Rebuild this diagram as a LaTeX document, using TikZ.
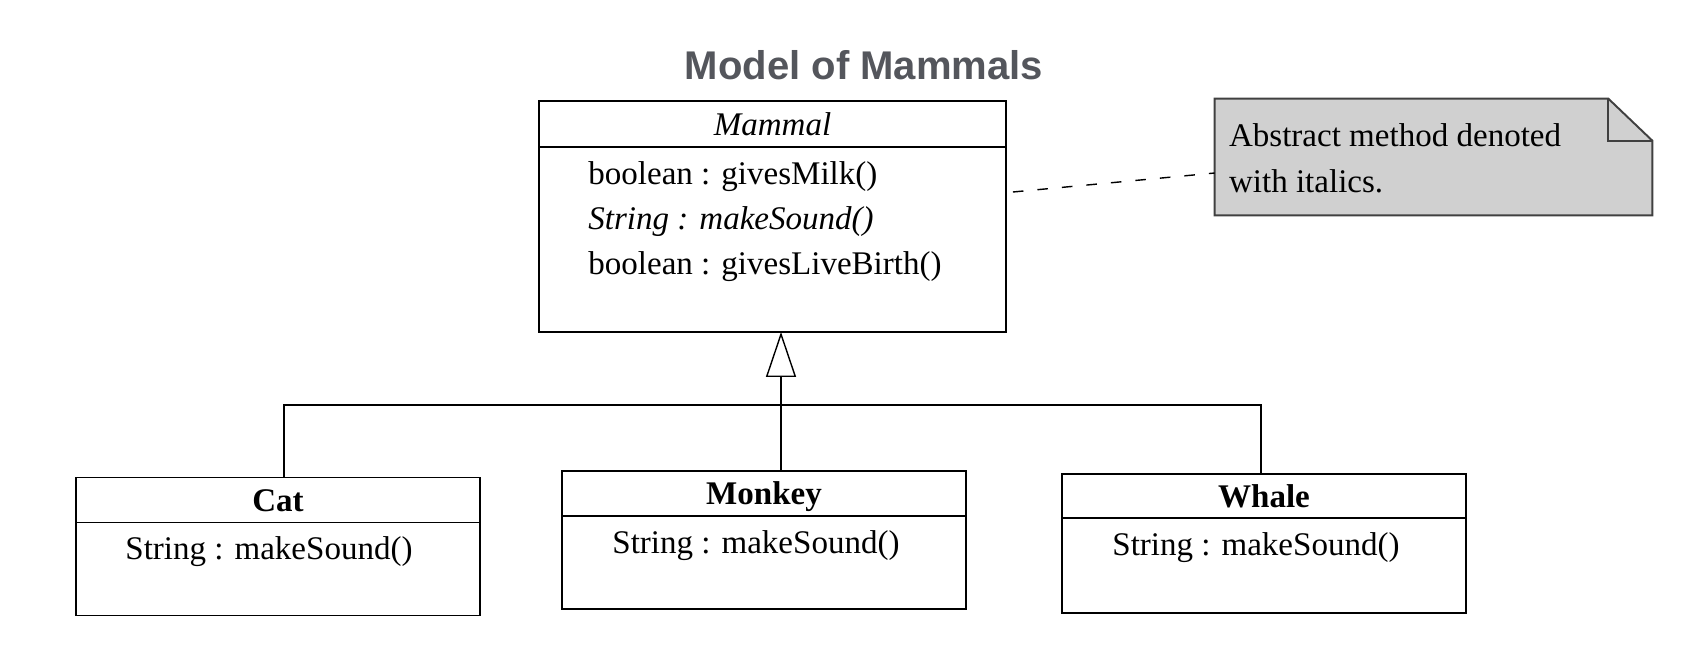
\documentclass[tikz,border=0pt]{standalone}
\usepackage{fontspec}
\setmainfont{Liberation Serif}
\newfontfamily\headfont{Liberation Sans}
\usetikzlibrary{positioning,arrows.meta}

\definecolor{notegray}{RGB}{208,208,208}
\definecolor{titlegray}{RGB}{84,86,92}
\definecolor{edgegray}{RGB}{64,64,64}

\tikzset{
  classhead/.style={draw, line width=1.1pt, inner sep=0pt, outer sep=0pt,
    minimum width=8.08cm, minimum height=0.9cm,
    font=\fontsize{18.8}{22}\selectfont, text height=14pt, text depth=1.1pt},
  classbody/.style={draw, line width=1.1pt, inner sep=0pt, outer sep=0pt,
    minimum width=8.08cm, minimum height=1.86cm},
  member/.style={inner sep=0pt, font=\fontsize{18.8}{22}\selectfont},
  link/.style={line width=0.8pt},
  inherit/.style={line width=0.8pt, -{Triangle[open, width=0.6cm, length=0.9cm]}},
  notebox/.style={draw=edgegray, line width=1.1pt, fill=notegray}
}

\begin{document}
\begin{tikzpicture}[x=0.02cm, y=-0.02cm]
  \useasboundingbox (0,0) rectangle (1702,662);

  % titre
  \node[font=\headfont\bfseries\fontsize{22.8}{27}\selectfont, text=titlegray,
    inner sep=0pt, anchor=base] (title) at (864,80) {Model of Mammals};

  % classe abstraite
  \node[classhead, minimum width=9.34cm, minimum height=0.92cm] (mammal) at (772.5,124) {\textit{Mammal}};
  \node[classbody, minimum width=9.34cm, minimum height=3.70cm, below=0pt of mammal] (mammalbody) {};
  \node[member, anchor=base west] (milk) at ([shift={(49,38)}]mammalbody.north west) {boolean : givesMilk()};
  \node[member, anchor=base west, font=\fontsize{18.8}{22}\selectfont\itshape] (sound) at ([shift={(0,45)}]milk.base west) {String : makeSound()};
  \node[member, anchor=base west] (birth) at ([shift={(0,45)}]sound.base west) {boolean : givesLiveBirth()};

  % note
  \node[minimum width=8.74cm, minimum height=2.32cm, inner sep=0pt] (note) at (1433.5,157) {};
  \draw[notebox] (note.north west) -- ([shift={(-44,0)}]note.north east)
    -- ([shift={(0,42)}]note.north east) -- (note.south east) -- (note.south west) -- cycle;
  \draw[draw=edgegray, line width=1.1pt] ([shift={(-44,0)}]note.north east) |- ([shift={(0,42)}]note.north east);
  \node[member, anchor=base west] (noteone) at ([shift={(14,48)}]note.north west) {Abstract method denoted};
  \node[member, anchor=base west] (notetwo) at ([shift={(0,46)}]noteone.base west) {with italics.};

  \coordinate (tail) at ([shift={(7,45)}]mammalbody.north east);
  \draw[link, dash pattern=on 6pt off 8pt] (tail) -- ([shift={(0,16)}]note.west);

  % sous-classes
  \node[classhead] (cat) at (278,500) {\textbf{Cat}};
  \node[classbody, below=0pt of cat] (catbody) {};
  \node[member, anchor=base west] (catsound) at ([shift={(49,37)}]catbody.north west) {String : makeSound()};

  \node[classhead] (monkey) at (764,493.5) {\textbf{Monkey}};
  \node[classbody, below=0pt of monkey] (monkeybody) {};
  \node[member, anchor=base west] (monkeysound) at ([shift={(50,37)}]monkeybody.north west) {String : makeSound()};

  \node[classhead, minimum height=0.88cm] (whale) at (1264,496) {\textbf{Whale}};
  \node[classbody, minimum height=1.9cm, below=0pt of whale] (whalebody) {};
  \node[member, anchor=base west] (whalesound) at ([shift={(50,37)}]whalebody.north west) {String : makeSound()};

  % heritage
  \coordinate (bus) at (781,405);
  \draw[link] ([shift={(6,0)}]cat.north) |- (bus) -| ([shift={(-3,0)}]whale.north);
  \draw[inherit] (monkey.north -| bus) -- (mammalbody.south -| bus);
\end{tikzpicture}
\end{document}
